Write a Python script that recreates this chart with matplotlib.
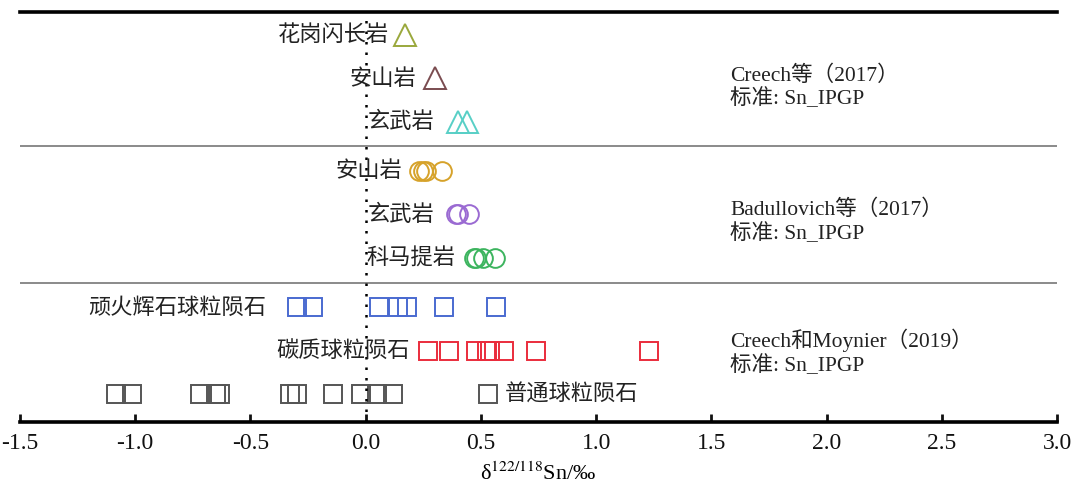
import matplotlib
matplotlib.use("Agg")
import matplotlib.pyplot as plt

plt.rcParams['font.family'] = ['Liberation Serif', 'Noto Sans CJK SC', 'DejaVu Sans']
plt.rcParams['mathtext.fontset'] = 'stix'

# delta 122/118 Sn values (per mil)
granodiorite_tri = [0.17]
andesite_tri = [0.30]
basalt_tri = [0.40, 0.44]
andesite_circ = [0.23, 0.25, 0.26, 0.33]
basalt_circ = [0.39, 0.40, 0.45]
komatiite_circ = [0.47, 0.48, 0.51, 0.56]
enstatite_sq = [-0.30, -0.23, 0.06, 0.14, 0.18, 0.34, 0.565]
carbonaceous_sq = [0.27, 0.36, 0.48, 0.525, 0.54, 0.60, 0.74, 1.23]
ordinary_sq = [-1.085, -1.013, -0.72, -0.65, -0.63, -0.33, -0.30, -0.14, -0.02, 0.05, 0.12]

row_labels = ["花岗闪长岩", "安山岩", "玄武岩",
              "安山岩", "玄武岩", "科马提岩",
              "顽火辉石球粒陨石", "碳质球粒陨石", "普通球粒陨石"]
group_labels = ["Creech等（2017）\n标准: Sn_IPGP",
                "Badullovich等（2017）\n标准: Sn_IPGP",
                "Creech和Moynier（2019）\n标准: Sn_IPGP"]
xticks = [-1.5, -1.0, -0.5, 0.0, 0.5, 1.0, 1.5, 2.0, 2.5, 3.0]

fig = plt.figure(figsize=(10.76, 4.86), dpi=100)
ax = fig.add_axes([20 / 1076, 64 / 486, 1037 / 1076, 410 / 486])

# row positions: three rows per study, extra gap between studies
group_gap = 1.13
group_base = [2 * (2 + group_gap), 2 + group_gap, 0.0]
y_rows = [base + k for base in group_base for k in (2, 1, 0)]

series = [
    (granodiorite_tri, '^', '#9aa83c'),
    (andesite_tri, '^', '#7a4c50'),
    (basalt_tri, '^', '#58cfc6'),
    (andesite_circ, 'o', '#d6a22a'),
    (basalt_circ, 'o', '#9a6ad2'),
    (komatiite_circ, 'o', '#3cb45e'),
    (enstatite_sq, 's', '#4a6ad0'),
    (carbonaceous_sq, 's', '#ea2c3c'),
    (ordinary_sq, 's', '#555555'),
]
sizes = {'^': 15.5, 'o': 13.5, 's': 13}
for (vals, mk, col), y in zip(series, y_rows):
    ax.plot(vals, [y] * len(vals), linestyle='none', marker=mk,
            markersize=sizes[mk], markerfacecolor='none',
            markeredgecolor=col, markeredgewidth=1.4)

# row labels (right aligned, except the ordinary chondrite key)
label_x = [0.10, 0.22, 0.30, 0.16, 0.30, 0.39, -0.43, 0.19]
for txt, x, y in zip(row_labels[:-1], label_x, y_rows[:-1]):
    ax.text(x, y, txt, ha='right', va='center', fontsize=16,
            family=['Noto Sans CJK SC'], color='#222222')
ax.plot([0.53], [y_rows[-1]], linestyle='none', marker='s', markersize=13,
        markerfacecolor='none', markeredgecolor='#555555', markeredgewidth=1.4)
ax.text(0.605, y_rows[-1], row_labels[-1], ha='left', va='center',
        fontsize=16, family=['Noto Sans CJK SC'], color='#222222')

# study annotations on the right
group_y = [7.05, 3.96, 0.97]
for txt, y in zip(group_labels, group_y):
    ax.text(1.583, y, txt, ha='left', va='center', fontsize=15.5,
            linespacing=1.2, color='#222222')

# separators between studies
for base in group_base[:2]:
    ax.axhline(base - group_gap / 2, color='#8a8a8a', linewidth=1.4)

# zero reference
ax.axvline(0.0, color='black', linewidth=1.8, linestyle=(0, (1, 3.2)))

ax.set_xlim(-1.5, 3.0)
ax.set_ylim(-0.64, 8.78)
ax.set_xticks(xticks)
ax.set_xticklabels([f"{t:.1f}" for t in xticks], fontsize=17)
ax.set_yticks([])
for side in ('left', 'right'):
    ax.spines[side].set_visible(False)
ax.spines['bottom'].set_linewidth(2.6)
ax.spines['top'].set_linewidth(2.6)
ax.tick_params(axis='x', direction='in', length=6, width=2, pad=8,
               colors='#111111')
ax.set_xlabel('δ$^{122/118}$Sn/‰', fontsize=16, labelpad=6)

fig.savefig("out.png", dpi=100, facecolor='white')
